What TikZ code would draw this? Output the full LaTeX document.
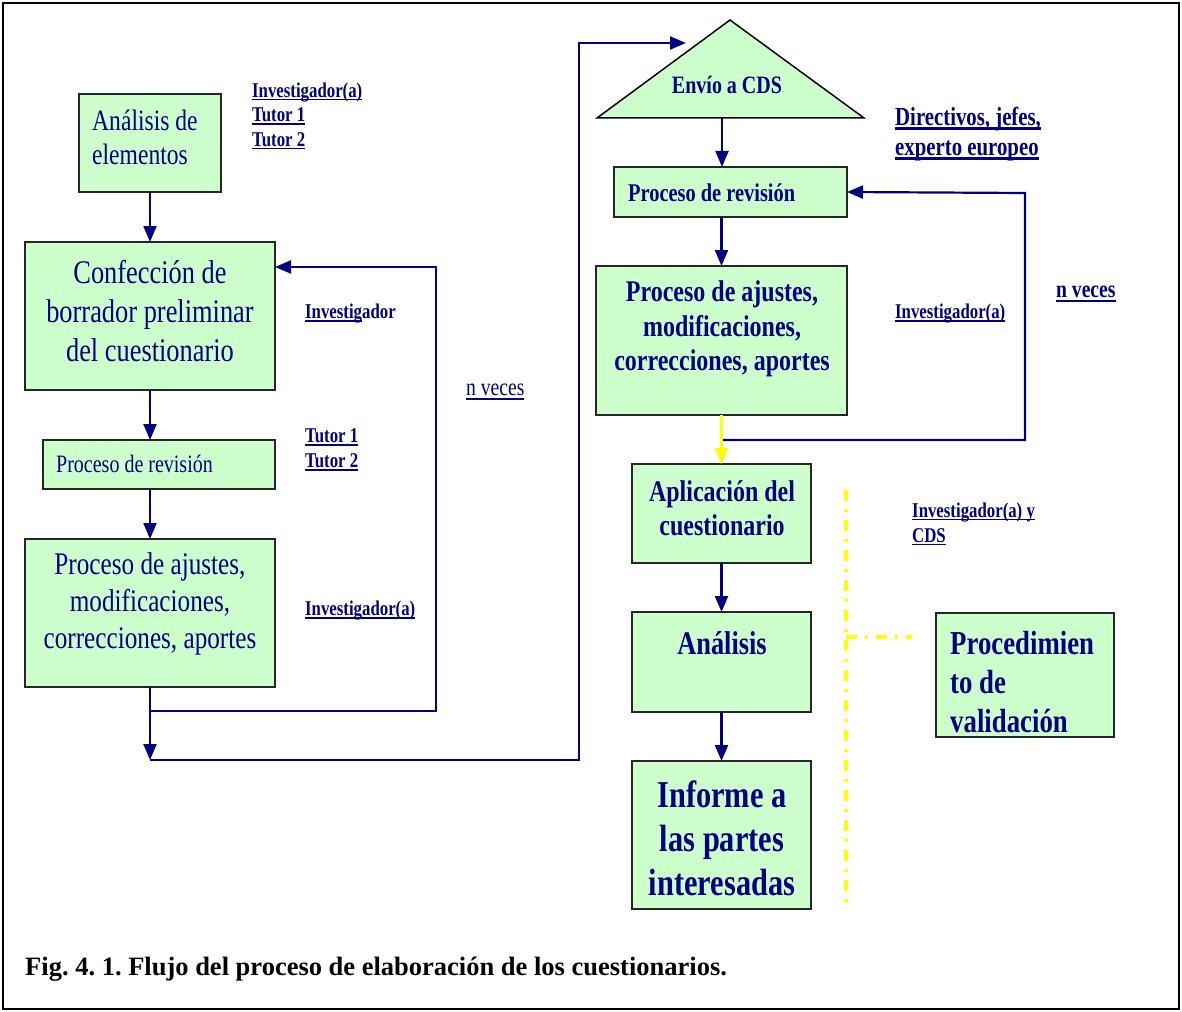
\documentclass[tikz,border=0pt]{standalone}
\usepackage{fontspec}
\setmainfont{Liberation Serif}
\newfontfamily\cf{Liberation Serif}[FakeStretch=0.8]
\usetikzlibrary{arrows.meta,calc}
\definecolor{nv}{RGB}{0,0,128}
\definecolor{gr}{RGB}{204,255,204}
\definecolor{yl}{RGB}{255,255,0}
\newcommand\fsz[2]{\fontsize{#1}{#2}\selectfont}
\newcommand\myul[1]{\setbox0\hbox{#1}\rlap{\rule[-0.16em]{\wd0}{0.09em}}\box0}
\frenchspacing
\begin{document}
\begin{tikzpicture}[x=1pt,y=-1pt,
 box/.style={draw=black!85,line width=2pt,fill=gr,inner sep=0,outer sep=0,anchor=north west},
 txt/.style={text=nv,align=center,inner sep=0},
 con/.style={draw=nv,line width=2.2pt},
 arr/.style={con,-{Triangle[width=13pt,length=16pt]}},
 lab/.style={text=nv,anchor=west,inner sep=0,align=left},
 ydash/.style={yl,line width=3.5pt,dash pattern=on 11pt off 8pt on 3pt off 8pt},
 ]
\useasboundingbox (0,0) rectangle (1182,1011);
\draw[line width=1.8pt] (3,3) rectangle (1179,1009);

% left column boxes
\node[box,minimum width=142pt,minimum height=98pt] (A) at (79,94) {};
\node[box,minimum width=250pt,minimum height=148pt] (B) at (25,242) {};
\node[box,minimum width=232pt,minimum height=49pt] (C) at (43,440) {};
\node[box,minimum width=250pt,minimum height=148pt] (D) at (25,539) {};

\node[txt,anchor=west,align=left,font=\cf\fsz{29.5}{34}] (tA) at (92,137) {Análisis de\\elementos};
\node[txt,font=\cf\fsz{33}{39}] (tB) at (150,311) {Confección de\\borrador preliminar\\del cuestionario};
\node[txt,anchor=west,font=\cf\fsz{25}{30}] (tC) at (56,464) {Proceso de revisión};
\node[txt,font=\cf\fsz{31.5}{37}] (tD) at (150,604) {Proceso de ajustes,\\modificaciones,\\correcciones, aportes};

% right column
\draw[fill=gr,line width=1.5pt] (597,118) coordinate (tl) -- (730,20) coordinate (tp) -- (864,118) coordinate (tr) -- cycle;
\node[txt,font=\cf\bfseries\fsz{25}{30}] (tT) at (727,85) {Envío a CDS};
\node[box,minimum width=233pt,minimum height=50pt] (E) at (614,167) {};
\node[box,minimum width=251pt,minimum height=149pt] (F) at (596,266) {};
\node[box,minimum width=179pt,minimum height=99pt] (G) at (632,464) {};
\node[box,minimum width=179pt,minimum height=100pt] (H) at (632,612) {};
\node[box,minimum width=179pt,minimum height=148pt] (I) at (632,761) {};
\node[box,minimum width=178pt,minimum height=124pt] (J) at (936,613) {};

\node[txt,anchor=west,font=\cf\bfseries\fsz{25.5}{30}] (tE) at (628,193) {Proceso de revisión};
\node[txt,font=\cf\bfseries\fsz{30}{34.5}] (tF) at (722,329) {Proceso de ajustes,\\modificaciones,\\correcciones, aportes};
\node[txt,font=\cf\bfseries\fsz{30}{34}] (tG) at (722,508) {Aplicación del\\cuestionario};
\node[txt,font=\cf\bfseries\fsz{33}{39}] (tH) at (722,643) {Análisis};
\node[txt,font=\cf\bfseries\fsz{38}{44}] (tI) at (722,838) {Informe a\\las partes\\interesadas};
\node[txt,anchor=west,align=left,font=\cf\bfseries\fsz{33.5}{39}] (tJ) at (950,682) {Procedimien\\to de\\validación};

% labels
\node[lab,font=\cf\bfseries\fsz{21}{24.5}] (l1) at (252,116) {\myul{Investigador(a)}\\\myul{Tutor 1}\\\myul{Tutor 2}};
\node[lab,font=\cf\bfseries\fsz{21}{24.5}] (l2) at (305,314) {\myul{Investig}ador};
\node[lab,font=\cf\fsz{24.5}{28}] (l3) at (466,392) {\myul{n veces}};
\node[lab,font=\cf\bfseries\fsz{21}{25}] (l4) at (305,450) {\myul{Tutor 1}\\\myul{Tutor 2}};
\node[lab,font=\cf\bfseries\fsz{21}{24.5}] (l5) at (305,611) {\myul{Investigador(a)}};
\node[lab,font=\cf\bfseries\fsz{26}{30}] (l6) at (895,134) {\myul{Directivos, jefes,}\\\myul{experto europeo}};
\node[lab,font=\cf\bfseries\fsz{21}{24.5}] (l7) at (895,314) {\myul{Investigador(a)}};
\node[lab,font=\cf\bfseries\fsz{24.5}{28}] (l8) at (1056,294) {\myul{n veces}};
\node[lab,font=\cf\bfseries\fsz{21}{25}] (l9) at (912,524) {\myul{Investigador(a) y}\\\myul{CDS}};

\node[anchor=west,inner sep=0,font=\bfseries\fsz{26.5}{30}] (cap) at (25,969) {Fig. 4. 1. Flujo del proceso de elaboración de los cuestionarios.};

% connectors left
\draw[arr] (A.south) -- (B.north);
\draw[arr] (B.south) -- (B.south |- C.north);
\draw[arr] (B.south |- C.south) -- (D.north);
\coordinate (j1) at (150,760);
\coordinate (lp1) at (150,711);
\coordinate (bin) at ($(B.north east)+(0,25)$);
\coordinate (tin) at (686,43);
\draw[arr] (D.south) -- (j1);
\draw[arr] (lp1) -- (436,711) -- (436,267) -- (bin);
\draw[arr] (j1) -- (579,760) -- (579,43) -- (tin);

% connectors right
\coordinate (tb) at (722,118);
\draw[arr] (tb) -- (tb |- E.north);
\draw[arr] (F.north |- E.south) -- (F.north);
\coordinate (lp2) at ($(F.south)+(0,25)$);
\draw[arr] (lp2) -- (1025,440) -- (1025,193) -- (E.east);
\draw[draw=yl,line width=2.2pt,-{Triangle[width=13pt,length=16pt,fill=yl]}] (F.south) -- (G.north);
\draw[arr] (G.south) -- (H.north);
\draw[arr] (H.south) -- (I.north);

% yellow dash-dot
\coordinate (y1) at (846,490);
\coordinate (y2) at (846,905);
\coordinate (y3) at (846,637);
\coordinate (y4) at (912,637);
\draw[ydash] (y1) -- (y2);
\draw[ydash] (y3) -- (y4);
\end{tikzpicture}
\end{document}
